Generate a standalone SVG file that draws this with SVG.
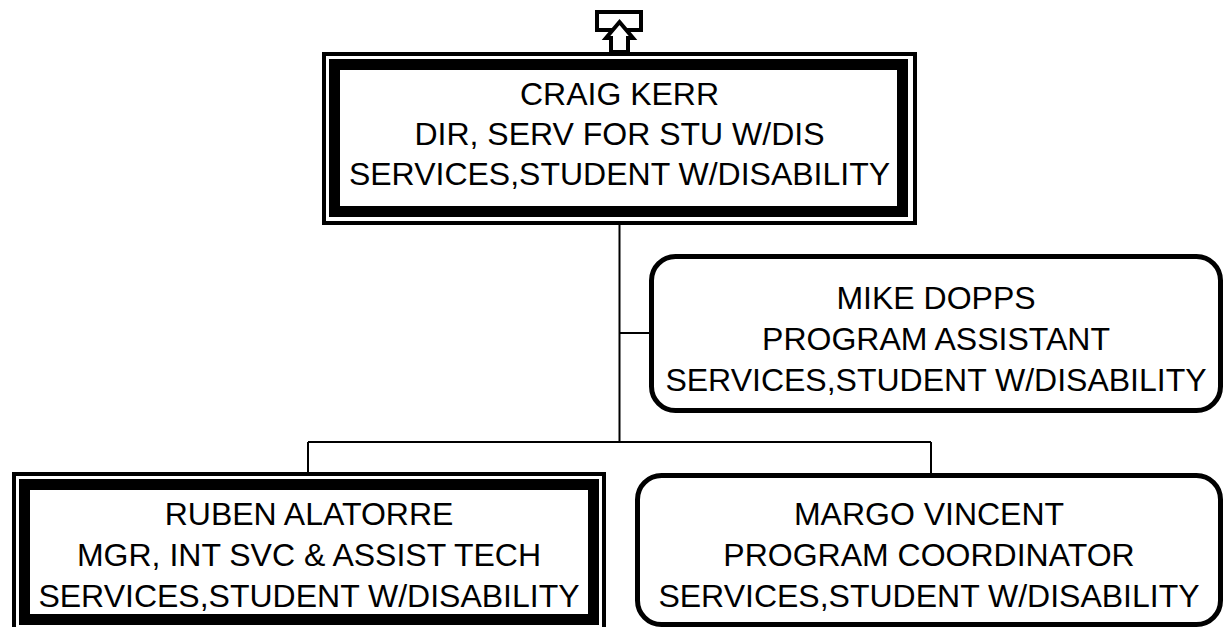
<svg xmlns="http://www.w3.org/2000/svg" width="1224" height="627" viewBox="0 0 1224 627">
<style>
.t{font-family:"Liberation Sans",Arial,sans-serif;font-size:32px;fill:#000;text-anchor:middle}
.thin{fill:none;stroke:#000;stroke-width:4}
.thick{fill:none;stroke:#000;stroke-width:11}
.round{fill:#fff;stroke:#000;stroke-width:5}
.conn{fill:none;stroke:#000;stroke-width:2}
</style>
<rect width="1224" height="627" fill="#fff"/>
<g id="connectors">
<path class="conn" d="M619.5 225 V442 M619.5 333 H650 M308 442 H931 M308 442 V472 M931 442 V474"/>
</g>
<g id="up-icon">
<rect x="597" y="12" width="44" height="18" fill="#fff" stroke="#000" stroke-width="4"/>
<polygon points="619.5,22 633,38 628,38 628,52 611,52 611,38 606,38" fill="#fff" stroke="#000" stroke-width="4" stroke-linejoin="miter"/>
</g>
<g id="craig-kerr">
<rect class="thin" x="324" y="54" width="591" height="169"/>
<rect class="thick" x="334.5" y="64.5" width="568" height="147"/>
<text class="t" x="619.5" y="105">CRAIG KERR</text>
<text class="t" x="619.5" y="145">DIR, SERV FOR STU W/DIS</text>
<text class="t" x="619.5" y="185">SERVICES,STUDENT W/DISABILITY</text>
</g>
<g id="mike-dopps">
<rect class="round" x="651.5" y="256.5" width="569" height="154" rx="24"/>
<text class="t" x="936" y="309">MIKE DOPPS</text>
<text class="t" x="936" y="350">PROGRAM ASSISTANT</text>
<text class="t" x="936" y="391">SERVICES,STUDENT W/DISABILITY</text>
</g>
<g id="ruben-alatorre">
<rect class="thin" x="14" y="474" width="590" height="158"/>
<rect class="thick" x="24.5" y="484.5" width="569" height="135"/>
<text class="t" x="309" y="525">RUBEN ALATORRE</text>
<text class="t" x="309" y="566">MGR, INT SVC &amp; ASSIST TECH</text>
<text class="t" x="309" y="607">SERVICES,STUDENT W/DISABILITY</text>
</g>
<g id="margo-vincent">
<rect class="round" x="637.5" y="475.5" width="583" height="149" rx="24"/>
<text class="t" x="929" y="525">MARGO VINCENT</text>
<text class="t" x="929" y="566">PROGRAM COORDINATOR</text>
<text class="t" x="929" y="607">SERVICES,STUDENT W/DISABILITY</text>
</g>
</svg>
